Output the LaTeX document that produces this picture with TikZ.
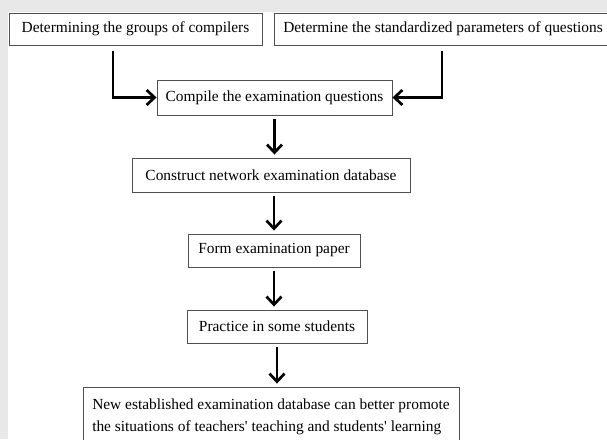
\documentclass[tikz,border=0pt]{standalone}
\usepackage{fontspec}
\setmainfont{Liberation Serif}
\usetikzlibrary{arrows.meta}
\definecolor{pagegray}{HTML}{E8E8E8}
\definecolor{boxline}{HTML}{505050}
\begin{document}
\begin{tikzpicture}[x=1pt,y=-1pt,
    box/.style={draw=boxline,line width=0.9pt,fill=white,inner sep=0pt,font=\fontsize{15.4}{22}\selectfont},
    arr/.style={line width=2.7pt,-{Straight Barb[length=8pt,width=15pt]}}]
  \clip (0,0) rectangle (607,439);
  \fill[pagegray] (0,0) rectangle (607,439);
  \fill[white] (8,12) rectangle (607,439);
  \node[box,minimum width=253pt,minimum height=32pt] (groups) at (135.5,29) {Determining the groups of compilers};
  \node[box,minimum width=338pt,minimum height=32pt] (params) at (443,29) {Determine the standardized parameters of questions};
  \node[box,minimum width=235pt,minimum height=35pt] (compile) at (274.5,97.5) {Compile the examination questions};
  \node[box,minimum width=278pt,minimum height=34pt] (database) at (271,175) {Construct network examination database};
  \node[box,minimum width=172pt,minimum height=33pt] (paper) at (274,250.5) {Form examination paper};
  \node[box,minimum width=180pt,minimum height=33pt] (practice) at (277,326.5) {Practice in some students};
  \node[box,minimum width=376pt,minimum height=60pt,align=left] (result) at (271,417)
    {New established examination database can better promote\\the situations of teachers\textquotesingle{} teaching and students\textquotesingle{} learning};
  \draw[arr] ([xshift=-22.5pt,yshift=-6pt]groups.south) |- (compile.west);
  \draw[arr] ([xshift=-1pt,yshift=-6pt]params.south) |- (compile.east);
  \draw[arr] ([yshift=-4pt]compile.south) -- ([yshift=3pt]compile.south |- database.north);
  \draw[arr] ([yshift=-4pt]paper.north |- database.south) -- ([yshift=3pt]paper.north);
  \draw[arr] ([yshift=-4pt]paper.south) -- ([yshift=3pt]paper.south |- practice.north);
  \draw[arr] ([yshift=-4pt]practice.south) -- ([yshift=3pt]practice.south |- result.north);
\end{tikzpicture}
\end{document}
